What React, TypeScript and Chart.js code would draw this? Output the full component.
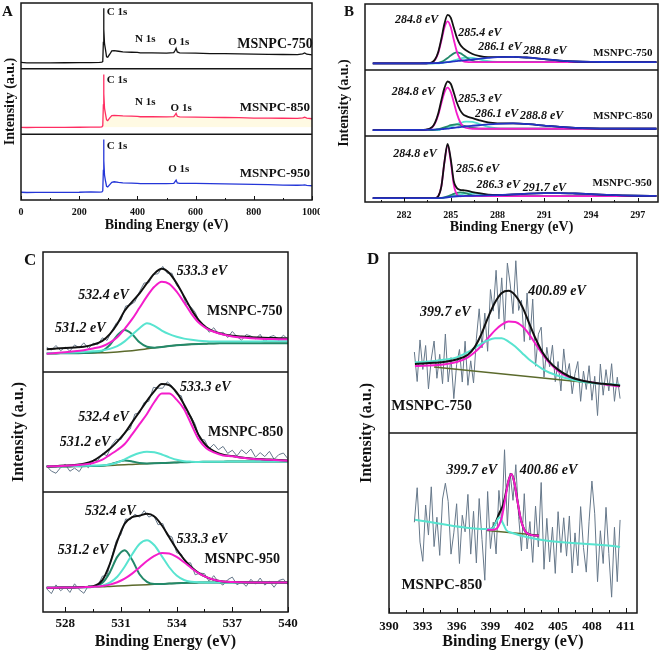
import React, { useEffect, useRef } from "react";
import { Chart, registerables } from "chart.js";

Chart.register(...registerables);

const SERIF = "'Liberation Serif', 'Times New Roman', serif";

// ================= Panel A : survey spectra =================
const surveyEnergy = [0, 20, 50, 100, 150, 200, 240, 270, 278, 281, 283, 284, 285, 287, 290, 294, 298, 305, 312, 320, 335, 350, 380, 400, 410, 450, 500, 525, 530, 533, 537, 545, 600, 650, 700, 750, 800, 850, 900, 950, 968, 975, 982, 1000];
const survey750 = [9.5, 8.7, 8.8, 8.9, 9.0, 9.2, 9.2, 9.5, 9.8, 11, 40, 92, 60, 38, 30, 18, 17.5, 22, 27, 27.5, 26.5, 25.5, 25, 24.8, 24, 24.2, 23.8, 24.5, 28, 31, 25.5, 24.2, 23.6, 23, 22.8, 22.4, 22, 21.8, 21.6, 21.5, 22.5, 24, 22, 21];
const survey850 = [10.6, 10.4, 10.5, 10.6, 10.7, 10.8, 10.9, 11.1, 11.5, 13, 45, 91, 62, 40, 32, 22, 21, 25, 28.5, 29, 28.5, 28, 27.6, 27.3, 26.8, 26.9, 26.5, 27, 30, 32, 27.5, 26.7, 26.2, 25.9, 25.6, 25.3, 24.8, 24.7, 24.5, 24.4, 25, 26, 24.6, 23.7];
const survey950 = [11.8, 11.4, 11.5, 11.6, 11.6, 11.8, 12.5, 12, 12.3, 14, 45, 92, 60, 38, 30, 21, 20, 23.5, 27, 27.8, 26.8, 26, 25.6, 25.3, 25, 25, 24.8, 25.3, 28.5, 30.3, 26, 25.3, 25.3, 24.8, 24.5, 24.1, 23.7, 23.3, 22.8, 22.5, 22.6, 23, 22.3, 21.7];

// ================= Panel B : C 1s =================
const c1sEnergy = [280, 281, 282, 283, 283.4, 283.8, 284.0, 284.2, 284.4, 284.6, 284.8, 285.0, 285.2, 285.4, 285.6, 285.8, 286.0, 286.4, 286.8, 287.4, 288, 289, 290, 291, 292, 293, 294, 295, 296, 297, 298.2];
// MSNPC-750
const b750Env = [10, 10, 10, 10.1, 10.2, 11.75, 16.25, 27.4, 47.3, 70.3, 83.5, 79.3, 63.9, 48.6, 38.6, 33.1, 29.5, 24.3, 21.5, 19.6, 19.6, 20, 18.7, 16.4, 14.2, 12.9, 12.3, 12.1, 12, 12, 12];
const b750Pk2848 = [10, 10, 10, 10, 10, 11.3, 15.4, 25.8, 44.2, 64.5, 73.8, 65.1, 45.4, 27.4, 17.2, 13.2, 12.3, 12, 12, 12, 12, 12, 12, 12, 12, 12, 12, 12, 12, 12, 12];
const b750Pk2854 = [10, 10, 10, 10, 10, 10.1, 10.3, 10.8, 12.2, 14.7, 18.1, 22, 25.2, 26.6, 25.6, 22.8, 19.3, 14, 12.3, 12, 12, 12, 12, 12, 12, 12, 12, 12, 12, 12, 12];
const b750Pk2861 = [10, 10, 10, 10, 10, 10, 10.1, 10.1, 10.6, 11.2, 12.1, 13.1, 14.5, 15.9, 17.2, 18.3, 18.9, 18.4, 16.3, 13.3, 12.2, 12, 12, 12, 12, 12, 12, 12, 12, 12, 12];
const b750Pk2888 = [10, 10, 10, 10.1, 10.2, 10.35, 10.45, 10.6, 10.9, 11.4, 11.9, 12.4, 13, 13.5, 14, 14.5, 15, 15.9, 16.9, 18.3, 19.4, 20, 18.7, 16.4, 14.2, 12.9, 12.3, 12.1, 12, 12, 12];
// MSNPC-850
const b850Env = [9, 9, 9, 9.3, 9.6, 13.3, 20.8, 34.1, 54.2, 72.9, 82.6, 79.1, 65.6, 50.3, 39.3, 32.9, 30.1, 27.1, 24.1, 20.5, 19.2, 19, 17.9, 15.8, 13.8, 12.3, 11.5, 11.2, 11.1, 11, 11];
const b850Pk2848 = [9, 9, 9, 9, 9.2, 12.7, 19.4, 31.9, 49.6, 66.2, 73.3, 66.8, 50.8, 33.5, 21.2, 14.6, 12.1, 11, 11, 11, 11, 11, 11, 11, 11, 11, 11, 11, 11, 11, 11];
const b850Pk2853 = [9, 9, 9, 9, 9, 9, 9.7, 10.3, 11.5, 13, 14.7, 16.3, 17.3, 17.5, 17, 15.8, 14.5, 12.3, 11.3, 11, 11, 11, 11, 11, 11, 11, 11, 11, 11, 11, 11];
const b850Pk2861 = [9, 9, 9, 9, 9, 9, 9, 9, 10.4, 11.4, 12.7, 14.4, 16.2, 18.1, 19.9, 21.2, 21.9, 21.3, 18.5, 13.9, 11.7, 11, 11, 11, 11, 11, 11, 11, 11, 11, 11];
const b850Pk2888 = [9, 9, 9.1, 9.3, 9.4, 9.6, 9.7, 9.9, 10.3, 10.8, 11.3, 11.9, 12.5, 13, 13.6, 14, 14.6, 15.5, 16.3, 17.6, 18.5, 19, 17.9, 15.8, 13.8, 12.3, 11.5, 11.2, 11.1, 11, 11];
// MSNPC-950
const b950Env = [6, 6, 6, 6, 6, 6, 6, 8.7, 23.8, 61.1, 87.9, 65.3, 31, 21, 18.5, 17.8, 17.3, 15.1, 13.4, 11.3, 10.7, 11.5, 12.6, 13.3, 13.5, 12.9, 11.9, 10.9, 10, 9.5, 9.15];
const b950Pk2848 = [6, 6, 6, 6, 6, 6, 6, 8.7, 23.6, 60.6, 86.2, 61.8, 25.6, 11.2, 8.7, 8.8, 8.9, 9, 9, 9, 9, 9, 9, 9, 9, 9, 9, 9, 9, 9, 9];
const b950Pk2856 = [6, 6, 6, 6, 6, 6, 6, 6, 6.4, 7.1, 8.4, 10.3, 12.2, 13.9, 14.7, 14.2, 12.9, 10.2, 9.2, 9, 9, 9, 9, 9, 9, 9, 9, 9, 9, 9, 9];
const b950Pk2863 = [6, 6, 6, 6, 6, 6, 6, 6, 6.2, 6.6, 7.65, 8.6, 9.5, 10.5, 11.4, 12.3, 13, 13.4, 12.5, 10.3, 9.2, 9, 9, 9, 9, 9, 9, 9, 9, 9, 9];
const b950Pk2917 = [6, 6, 6, 6, 6, 6, 6, 6, 6.2, 6.6, 7.2, 7.9, 8.35, 8.7, 8.95, 9.05, 9.2, 9.5, 9.7, 10, 10.5, 11.5, 12.6, 13.3, 13.5, 12.9, 11.9, 10.9, 10, 9.5, 9.15];

// ================= Panel C : O 1s =================
const o1sEnergy = [527, 527.5, 528, 528.5, 529, 529.5, 530, 530.4, 530.8, 531.2, 531.6, 532.0, 532.4, 532.8, 533.2, 533.6, 534.0, 534.4, 534.8, 535.2, 535.6, 536, 536.5, 537, 537.5, 538, 538.5, 539, 539.5, 540];
const o1sRawEnergy = [527, 527.25, 527.5, 527.75, 528, 528.25, 528.5, 528.75, 529, 529.25, 529.5, 529.75, 530, 530.25, 530.5, 530.75, 531, 531.25, 531.5, 531.75, 532, 532.25, 532.5, 532.75, 533, 533.25, 533.5, 533.75, 534, 534.25, 534.5, 534.75, 535, 535.25, 535.5, 535.75, 536, 536.25, 536.5, 536.75, 537, 537.25, 537.5, 537.75, 538, 538.25, 538.5, 538.75, 539, 539.25, 539.5, 539.75, 540];
// MSNPC-750
const o750Raw = [20.6, 18.2, 22.1, 17.7, 20.7, 17.3, 22.6, 20.2, 24.3, 19.5, 24, 22.8, 28.5, 26.3, 34, 40.8, 43.3, 54.9, 55.8, 58.5, 66.9, 74.2, 74.3, 81.3, 81.9, 88, 82.3, 82.3, 72.2, 67.8, 57, 54.6, 49.8, 40.6, 39, 33.1, 36.9, 31.7, 33.2, 28.7, 33.8, 29.4, 26.5, 31.2, 30, 27.5, 31.4, 25.1, 29.3, 30.4, 26.4, 30.7, 27.3];
const o750Env = [19, 19.5, 20, 20.5, 21, 22.8, 26, 31.5, 40, 51, 58.5, 65.5, 74, 82, 86, 82.5, 74, 63, 52, 43, 37, 33.8, 31.5, 30.2, 29.5, 29, 28.7, 28.4, 28.2, 28];
const o750Pk5312 = [15.5, 15.5, 15.6, 15.6, 15.8, 16.2, 17.6, 22.5, 30.5, 35, 31.5, 24.7, 21.0, 20.3, 20.9, 21.6, 22.2, 22.7, 23.1, 23.4, 23.6, 23.8, 23.9, 24, 24, 24, 24, 24, 24, 24];
const o750Pk5324 = [15.6, 15.8, 16, 16.3, 16.7, 17.2, 18, 19.3, 21.5, 25.5, 31, 36.5, 40.6, 38.5, 34.5, 31.5, 29.4, 27.8, 26.8, 26.1, 25.7, 25.5, 25.4, 25.4, 25.4, 25.5, 25.5, 25.6, 25.6, 25.7];
const o750Pk5333 = [15.3, 15.8, 16.4, 17.2, 18.2, 19.6, 21.5, 24.5, 29, 36, 44, 53.5, 63, 71, 75.2, 73.5, 67, 58, 48.5, 41, 36.4, 33.5, 31.2, 29.6, 28.7, 28.1, 27.7, 27.5, 27.3, 27.2];
const o750Bg = [15.5, 15.5, 15.6, 15.6, 15.7, 15.8, 16.0, 16.3, 16.7, 17.2, 17.8, 18.5, 19.3, 20.1, 20.9, 21.6, 22.2, 22.7, 23.1, 23.4, 23.6, 23.8, 23.9, 24, 24, 24, 24, 24, 24, 24];
// MSNPC-850
const o850Raw = [21.5, 17.4, 15.6, 20.4, 22.9, 17.3, 19.9, 17, 23.1, 20.2, 26.5, 26.2, 31.9, 30.3, 39, 43.9, 43.7, 50.6, 52.5, 65, 65.9, 74.6, 75.6, 87.2, 86.5, 86.5, 91.8, 88.2, 81.5, 80.2, 66.1, 63.6, 56.4, 43.9, 43.5, 36, 39.8, 35.2, 38, 32.2, 34.8, 30.1, 35.2, 31.8, 35.8, 29, 32.8, 29.5, 33.9, 27.2, 31.1, 32.5, 27.6];
const o850Env = [21.2, 21.5, 22, 22.6, 23.5, 26, 31, 36, 42, 49, 58, 67, 76, 84, 90, 89, 83, 73, 61, 47, 38.5, 34, 31, 30, 28.8, 28, 27.4, 27, 26.6, 26.2];
const o850Pk5312 = [21.2, 21.2, 21.3, 21.4, 21.5, 21.7, 21.9, 23, 24.9, 26.2, 25.5, 24.2, 23.8, 23.9, 24.1, 24.4, 24.6, 24.8, 25.0, 25.1, 25.2, 25.3, 25.3, 25.4, 25.4, 25.4, 25.4, 25.4, 25.4, 25.4];
const o850Pk5324 = [21.4, 21.5, 21.6, 21.7, 21.8, 22, 22.2, 22.9, 24.6, 27.2, 30.2, 32.5, 33.6, 33.1, 31.3, 28.9, 26.8, 25.7, 25.3, 25.1, 25.2, 25.3, 25.3, 25.4, 25.4, 25.4, 25.4, 25.4, 25.4, 25.4];
const o850Pk5333 = [21.3, 21.5, 21.8, 22.3, 23, 24.2, 27, 31, 35, 40, 48, 56.5, 65, 75, 82, 82, 77, 69, 56, 43.5, 36.5, 33, 30.5, 29.7, 28.5, 27.8, 27.2, 26.8, 26.4, 26];
const o850Bg = [21.2, 21.2, 21.3, 21.4, 21.5, 21.7, 21.9, 22.1, 22.4, 22.7, 23.0, 23.3, 23.6, 23.9, 24.1, 24.4, 24.6, 24.8, 25.0, 25.1, 25.2, 25.3, 25.3, 25.4, 25.4, 25.4, 25.4, 25.4, 25.4, 25.4];
// MSNPC-950
const o950Raw = [19.3, 15.3, 22.6, 17.7, 21, 16.3, 23.5, 18.6, 15.6, 22, 21.3, 21.7, 29.9, 30.3, 45.6, 59.4, 64.6, 77.5, 77, 81.5, 79, 84.5, 79.1, 80.8, 72.7, 73.8, 64.2, 62.5, 49.4, 48.3, 40.5, 41, 31, 32.4, 32, 25.5, 30.3, 25, 22.4, 26.9, 29.1, 22.7, 25, 21.4, 27.3, 23.2, 28.3, 22.4, 25.6, 20.6, 26.2, 27.5, 22.7];
const o950Env = [20.2, 20.3, 20.4, 20.5, 20.8, 21.5, 26.5, 40, 59, 73.5, 79, 80.3, 81.8, 79.6, 72.3, 62.3, 52.3, 43.9, 37.3, 32.4, 29, 26.8, 25.4, 24.9, 24.7, 24.6, 24.6, 24.6, 24.6, 24.6];
const o950Pk5312 = [20.2, 20.3, 20.4, 20.5, 20.6, 21.1, 24.3, 33.0, 45.9, 51.5, 43.5, 31.5, 25.1, 23.4, 23.4, 23.7, 24.0, 24.2, 24.4, 24.5, 24.6, 24.6, 24.6, 24.6, 24.6, 24.6, 24.6, 24.6, 24.6, 24.6];
const o950Pk5324 = [20.2, 20.3, 20.4, 20.5, 20.6, 21.0, 22.0, 24.5, 29.4, 37.7, 47.9, 56.7, 59.8, 55.6, 46.6, 37.3, 30.4, 26.7, 25.2, 24.7, 24.6, 24.6, 24.6, 24.6, 24.6, 24.6, 24.6, 24.6, 24.6, 24.6];
const o950Pk5333 = [20.2, 20.3, 20.4, 20.5, 20.7, 21.0, 21.7, 22.8, 24.8, 27.8, 32.0, 37.1, 42.5, 46.8, 49.1, 48.7, 45.9, 41.4, 36.5, 32.2, 29.0, 26.8, 25.4, 24.9, 24.7, 24.6, 24.6, 24.6, 24.6, 24.6];
const o950Bg = [20.2, 20.3, 20.4, 20.5, 20.6, 20.8, 21.0, 21.3, 21.6, 21.9, 22.2, 22.5, 22.8, 23.1, 23.4, 23.7, 24.0, 24.2, 24.4, 24.5, 24.6, 24.6, 24.6, 24.6, 24.6, 24.6, 24.6, 24.6, 24.6, 24.6];

// ================= Panel D : N 1s =================
const n1sRawEnergy = [392.25, 392.5, 392.75, 393, 393.25, 393.5, 393.75, 394, 394.25, 394.5, 394.75, 395, 395.25, 395.5, 395.75, 396, 396.25, 396.5, 396.75, 397, 397.25, 397.5, 397.75, 398, 398.25, 398.5, 398.75, 399, 399.25, 399.5, 399.75, 400, 400.25, 400.5, 400.75, 401, 401.25, 401.5, 401.75, 402, 402.25, 402.5, 402.75, 403, 403.25, 403.5, 403.75, 404, 404.25, 404.5, 404.75, 405, 405.25, 405.5, 405.75, 406, 406.25, 406.5, 406.75, 407, 407.25, 407.5, 407.75, 408, 408.25, 408.5, 408.75, 409, 409.25, 409.5, 409.75, 410, 410.25, 410.5];
// MSNPC-750
const n750Raw = [45, 28.6, 51.7, 35.3, 48.6, 24.5, 41.1, 51.1, 30.4, 43.7, 27.4, 55, 28.4, 41.9, 19.1, 38.1, 46.4, 28.3, 51, 26.5, 40.1, 27.8, 52.3, 69, 47.3, 66.6, 45.4, 79.7, 67.7, 90.4, 63.4, 86.2, 57.6, 94.4, 82.8, 66.3, 95.7, 68.1, 73.8, 50.8, 77.8, 51.6, 74.4, 37.1, 54.9, 58.8, 31, 47.6, 36.8, 48.8, 28.5, 39.7, 23.4, 46.7, 31.4, 38.6, 21.8, 33, 39.7, 17.6, 34.4, 24.2, 37.4, 18.2, 31.5, 9.7, 38.3, 21, 35.2, 23.4, 38.5, 17.6, 31, 19.1];
const n750FitEnergy = [392.3, 393, 394, 395, 396, 397, 397.6, 398.2, 398.8, 399.4, 400, 400.6, 401.2, 401.8, 402.4, 403, 403.6, 404.2, 405, 406, 407, 408, 409, 410.5];
const n750Env = [38.4, 38.6, 39, 39.6, 40.8, 43.5, 47.7, 55, 64.4, 72.5, 77.8, 79, 76.5, 70.5, 61.5, 52.5, 45, 39.8, 35.2, 31.4, 29.3, 28.1, 27.3, 26.3];
const n750Pk3997 = [39.3, 39.5, 40, 40.8, 42, 44.9, 47.3, 49.7, 51.6, 52.6, 52.6, 50.8, 48, 44.5, 41, 38.2, 35.6, 33.6, 31.8, 30, 28.6, 27.8, 27.3, 26.8];
const n750Pk4009 = [37.2, 37.3, 37.6, 38.2, 39.4, 42, 44.8, 48.5, 52.8, 57, 60.2, 61.9, 61.7, 59.4, 55.1, 49.5, 44, 39.2, 34.5, 30.8, 29, 28.1, 27.1, 25.9];
const n750BgEnergy = [394, 408];
const n750Bg = [36.6, 27.8];
// MSNPC-850
const n850Raw = [50.4, 69.6, 39.4, 28.7, 60, 43.3, 70.1, 36.9, 53.2, 32, 63.3, 72.1, 62, 32.7, 44.5, 60.7, 27.5, 54.3, 45.1, 65.9, 32.7, 56.5, 27.8, 63.6, 40.9, 18.2, 67.5, 35.8, 50.5, 32.8, 68.1, 50.4, 90.7, 48.5, 77.8, 62.6, 82.4, 53.7, 34.5, 66.3, 35.6, 50.8, 28.1, 59.4, 36.7, 72.5, 24.3, 52.6, 28.4, 47.7, 22, 56.3, 33.6, 52.9, 31.6, 53.9, 22.2, 44.5, 26.3, 59.1, 36.4, 22.7, 51, 73.3, 55.1, 17.4, 45.7, 27.5, 58.7, 33, 8.8, 47.6, 17.4, 51.7];
const n850Pk3997Energy = [392.3, 398.6, 399.2, 399.5, 399.8, 400.1, 400.4, 400.8, 410.5];
const n850Pk3997 = [51.8, 46.6, 47.1, 50.4, 53.2, 50.0, 46.1, 44.7, 36.7];
const n850Pk4009Energy = [398.7, 399.2, 399.6, 400.0, 400.3, 400.6, 400.85, 401.1, 401.4, 401.7, 402.1, 402.6, 403.3];
const n850Pk4009 = [46.3, 46.2, 47.2, 53.0, 62.9, 73.3, 77.2, 73.0, 62.1, 51.8, 45.2, 43.4, 42.9];
const n850EnvEnergy = [398.7, 399.2, 399.5, 399.8, 400.1, 400.4, 400.6, 400.85, 401.1, 401.4, 401.7, 402.1, 402.6, 403.3];
const n850Env = [46.3, 47.2, 50.9, 55.7, 59.7, 67.6, 73.4, 77.2, 73.0, 62.1, 51.8, 45.2, 43.4, 42.9];
const n850BgEnergy = [398.7, 403.3];
const n850Bg = [45.8, 43.2];

// ================= styles =================
const BLACK = "#111111";
const MAGENTA = "#f41dcb";
const TURQ = "#58e4d0";
const DGREEN = "#23896a";
const OLIVE = "#5b6a2c";
const NAVY = "#2233c4";
const GRAY = "#66788a";
const RED = "#ff2d62";
const BLUE = "#2436d8";

const f = (style: string, size: number) => `${style} ${size}px ${SERIF}`;

type Curve = { x: number[]; y: number[]; color: string; w: number; smooth?: boolean; fill?: { value: number; color: string } };
type Note = { t: string; x: number; y: number; a: "left" | "right"; f: string };
type Sub = { curves: Curve[]; notes: Note[] };

const cv = (x: number[], y: number[], color: string, w: number, smooth = true, fill?: { value: number; color: string }): Curve => ({ x, y, color, w, smooth, fill });

const panels: any[] = [
  {
    key: "A", left: 0, top: 0, w: 320, h: 234,
    pad: { left: 0, right: 8, top: 3, bottom: 0 },
    yTitleW: 21, yTitlePad: 1.6, yTitleSize: 14,
    xMin: 0, xMax: 1000, xStep: 200, minor: 100, tickSize: 10, tickPad: 6, xH: 34, xTitleSize: 14, xTitlePadB: 0.6,
    tickMajor: 4, tickMinor: 2,
    subs: [
      { curves: [cv(surveyEnergy, survey750, BLACK, 1.3, false)],
        notes: [
          { t: "C 1s", x: 295, y: 86, a: "left", f: f("bold", 11) },
          { t: "N 1s", x: 392, y: 44.6, a: "left", f: f("bold", 11) },
          { t: "O 1s", x: 506, y: 40.5, a: "left", f: f("bold", 11) },
          { t: "MSNPC-750", x: 743, y: 37, a: "left", f: f("bold", 14) },
        ] },
      { curves: [cv(surveyEnergy, survey850, RED, 1.3, false, { value: 10.6, color: "rgba(255,246,208,0.6)" })],
        notes: [
          { t: "C 1s", x: 295, y: 83, a: "left", f: f("bold", 11) },
          { t: "N 1s", x: 392, y: 49, a: "left", f: f("bold", 11) },
          { t: "O 1s", x: 514, y: 39.9, a: "left", f: f("bold", 11) },
          { t: "MSNPC-850", x: 752, y: 40.4, a: "left", f: f("bold", 13) },
        ] },
      { curves: [cv(surveyEnergy, survey950, BLUE, 1.3, false)],
        notes: [
          { t: "C 1s", x: 295, y: 82.3, a: "left", f: f("bold", 11) },
          { t: "O 1s", x: 506, y: 46.5, a: "left", f: f("bold", 11) },
          { t: "MSNPC-950", x: 752, y: 39.4, a: "left", f: f("bold", 13) },
        ] },
    ],
  },
  {
    key: "B", left: 330, top: 0, w: 331, h: 236,
    pad: { left: 0, right: 3, top: 4, bottom: 0 },
    yTitleW: 35, yTitlePad: 5.6, yTitleSize: 14,
    xMin: 279.5, xMax: 298.3, xStep: 3, minor: 1.5, tickSize: 10, tickPad: 7, xH: 34, xTitleSize: 14, xTitlePadB: 0,
    tickMajor: 4, tickMinor: 2,
    subs: [
      { curves: [
          cv(c1sEnergy, b750Pk2861, TURQ, 1.8), cv(c1sEnergy, b750Pk2854, DGREEN, 1.8), cv(c1sEnergy, b750Pk2848, MAGENTA, 1.8),
          cv(c1sEnergy, b750Env, BLACK, 1.8), cv(c1sEnergy, b750Pk2888, NAVY, 1.8)],
        notes: [
          { t: "284.8 eV", x: 281.42, y: 76.5, a: "left", f: f("italic bold", 12) },
          { t: "285.4 eV", x: 285.48, y: 55.9, a: "left", f: f("italic bold", 12) },
          { t: "286.1 eV", x: 286.77, y: 34.3, a: "left", f: f("italic bold", 12) },
          { t: "288.8 eV", x: 289.65, y: 28.2, a: "left", f: f("italic bold", 12) },
          { t: "MSNPC-750", x: 297.95, y: 25, a: "right", f: f("bold", 11) },
        ] },
      { curves: [
          cv(c1sEnergy, b850Pk2861, TURQ, 1.8), cv(c1sEnergy, b850Pk2853, DGREEN, 1.8), cv(c1sEnergy, b850Pk2848, MAGENTA, 1.8),
          cv(c1sEnergy, b850Env, BLACK, 1.8), cv(c1sEnergy, b850Pk2888, NAVY, 1.8)],
        notes: [
          { t: "284.8 eV", x: 281.21, y: 66.1, a: "left", f: f("italic bold", 12) },
          { t: "285.3 eV", x: 285.48, y: 56.3, a: "left", f: f("italic bold", 12) },
          { t: "286.1 eV", x: 286.56, y: 33.9, a: "left", f: f("italic bold", 12) },
          { t: "288.8 eV", x: 289.44, y: 29.9, a: "left", f: f("italic bold", 12) },
          { t: "MSNPC-850", x: 297.95, y: 29.9, a: "right", f: f("bold", 11) },
        ] },
      { curves: [
          cv(c1sEnergy, b950Pk2863, TURQ, 1.8), cv(c1sEnergy, b950Pk2856, DGREEN, 1.8), cv(c1sEnergy, b950Pk2848, MAGENTA, 1.8),
          cv(c1sEnergy, b950Env, BLACK, 1.8), cv(c1sEnergy, b950Pk2917, NAVY, 1.8)],
        notes: [
          { t: "284.8 eV", x: 281.32, y: 72.3, a: "left", f: f("italic bold", 12) },
          { t: "285.6 eV", x: 285.34, y: 50, a: "left", f: f("italic bold", 12) },
          { t: "286.3 eV", x: 286.66, y: 25.8, a: "left", f: f("italic bold", 12) },
          { t: "291.7 eV", x: 289.62, y: 21.7, a: "left", f: f("italic bold", 12) },
          { t: "MSNPC-950", x: 297.9, y: 29.2, a: "right", f: f("bold", 11) },
        ] },
    ],
  },
  {
    key: "C", left: 0, top: 235, w: 300, h: 417,
    pad: { left: 0, right: 12, top: 17, bottom: 0 },
    yTitleW: 43, yTitlePad: 9.4, yTitleSize: 16,
    xMin: 526.8, xMax: 540, xStep: 3, minor: 1.5, tickSize: 13, tickPad: 3.5, xH: 40, xTitleSize: 16, xTitlePadB: 0.7,
    tickMajor: 5, tickMinor: 3,
    subs: [
      { curves: [
          cv(o1sRawEnergy, o750Raw, GRAY, 1, false), cv(o1sEnergy, o750Bg, OLIVE, 1.5), cv(o1sEnergy, o750Pk5312, DGREEN, 2),
          cv(o1sEnergy, o750Pk5324, TURQ, 2), cv(o1sEnergy, o750Env, BLACK, 2), cv(o1sEnergy, o750Pk5333, MAGENTA, 2)],
        notes: [
          { t: "533.3 eV", x: 534.0, y: 83.6, a: "left", f: f("italic bold", 14) },
          { t: "532.4 eV", x: 528.7, y: 64, a: "left", f: f("italic bold", 14) },
          { t: "531.2 eV", x: 527.45, y: 36.4, a: "left", f: f("italic bold", 14) },
          { t: "MSNPC-750", x: 539.7, y: 50.3, a: "right", f: f("bold", 14) },
        ] },
      { curves: [
          cv(o1sRawEnergy, o850Raw, GRAY, 1, false), cv(o1sEnergy, o850Bg, OLIVE, 1.5), cv(o1sEnergy, o850Pk5312, DGREEN, 2),
          cv(o1sEnergy, o850Pk5324, TURQ, 2), cv(o1sEnergy, o850Env, BLACK, 2), cv(o1sEnergy, o850Pk5333, MAGENTA, 2)],
        notes: [
          { t: "533.3 eV", x: 534.18, y: 87.5, a: "left", f: f("italic bold", 14) },
          { t: "532.4 eV", x: 528.7, y: 62, a: "left", f: f("italic bold", 14) },
          { t: "531.2 eV", x: 527.7, y: 41, a: "left", f: f("italic bold", 14) },
          { t: "MSNPC-850", x: 539.75, y: 49.4, a: "right", f: f("bold", 14) },
        ] },
      { curves: [
          cv(o1sRawEnergy, o950Raw, GRAY, 1, false), cv(o1sEnergy, o950Bg, OLIVE, 1.5), cv(o1sEnergy, o950Pk5312, DGREEN, 2),
          cv(o1sEnergy, o950Pk5324, TURQ, 2), cv(o1sEnergy, o950Env, BLACK, 2), cv(o1sEnergy, o950Pk5333, MAGENTA, 2)],
        notes: [
          { t: "532.4 eV", x: 529.06, y: 83.6, a: "left", f: f("italic bold", 14) },
          { t: "531.2 eV", x: 527.6, y: 51, a: "left", f: f("italic bold", 14) },
          { t: "533.3 eV", x: 534.0, y: 60.7, a: "left", f: f("italic bold", 14) },
          { t: "MSNPC-950", x: 539.57, y: 44, a: "right", f: f("bold", 14) },
        ] },
    ],
  },
  {
    key: "D", left: 330, top: 235, w: 331, h: 417,
    pad: { left: 0, right: 24, top: 18, bottom: 0 },
    yTitleW: 59, yTitlePad: 27.1, yTitleSize: 16,
    xMin: 390, xMax: 412, xStep: 3, minor: 1.5, tickSize: 13, tickPad: 6.2, xH: 39, xTitleSize: 16, xTitlePadB: 0.7,
    tickMajor: 5, tickMinor: 3,
    subs: [
      { curves: [
          cv(n1sRawEnergy, n750Raw, GRAY, 1, false), cv(n750BgEnergy, n750Bg, OLIVE, 1.5, false),
          cv(n750FitEnergy, n750Pk4009, MAGENTA, 2), cv(n750FitEnergy, n750Pk3997, TURQ, 2), cv(n750FitEnergy, n750Env, BLACK, 2)],
        notes: [
          { t: "400.89 eV", x: 402.36, y: 78.4, a: "left", f: f("italic bold", 14) },
          { t: "399.7 eV", x: 392.75, y: 67.2, a: "left", f: f("italic bold", 14) },
          { t: "MSNPC-750", x: 390.2, y: 15.1, a: "left", f: f("bold", 15) },
        ] },
      { curves: [
          cv(n1sRawEnergy, n850Raw, GRAY, 1, false), cv(n850BgEnergy, n850Bg, OLIVE, 1.5, false),
          cv(n850EnvEnergy, n850Env, BLACK, 2), cv(n850Pk3997Energy, n850Pk3997, TURQ, 2), cv(n850Pk4009Energy, n850Pk4009, MAGENTA, 2)],
        notes: [
          { t: "399.7 eV", x: 395.1, y: 79.4, a: "left", f: f("italic bold", 14) },
          { t: "400.86 eV", x: 401.6, y: 79.4, a: "left", f: f("italic bold", 14) },
          { t: "MSNPC-850", x: 391.1, y: 15.5, a: "left", f: f("bold", 15) },
        ] },
    ],
  },
];

function decorPlugin(p: any) {
  return {
    id: "decor" + p.key,
    afterDatasetsDraw(chart: any) {
      const { ctx, chartArea } = chart;
      const { left, right, top, bottom } = chartArea;
      const xs = chart.scales.x;
      ctx.save();
      // peak / sample labels
      p.subs.forEach((s: Sub, i: number) => {
        const ys = chart.scales["y" + i];
        ctx.fillStyle = "#111";
        ctx.textBaseline = "middle";
        s.notes.forEach((nt) => {
          ctx.font = nt.f;
          ctx.textAlign = nt.a;
          ctx.fillText(nt.t, xs.getPixelForValue(nt.x), ys.getPixelForValue(nt.y));
        });
      });
      // inward tick marks on the bottom axis
      const majors: number[] = xs.ticks.map((t: any) => t.value);
      let v = majors[0];
      while (v - p.minor >= xs.min - 1e-6) v -= p.minor;
      ctx.strokeStyle = "#111";
      ctx.lineWidth = 1;
      ctx.beginPath();
      for (; v <= xs.max + 1e-6; v += p.minor) {
        const isMajor = majors.some((m) => Math.abs(m - v) < 1e-6);
        const px = Math.round(xs.getPixelForValue(v)) + 0.5;
        ctx.moveTo(px, bottom);
        ctx.lineTo(px, bottom - (isMajor ? p.tickMajor : p.tickMinor));
      }
      ctx.stroke();
      // frame and separators
      ctx.strokeStyle = "#161616";
      ctx.lineWidth = 1.5;
      ctx.strokeRect(left, top, right - left, bottom - top);
      ctx.beginPath();
      for (let i = 0; i < p.subs.length - 1; i++) {
        const yb = chart.scales["y" + i].bottom;
        ctx.moveTo(left, yb);
        ctx.lineTo(right, yb);
      }
      ctx.stroke();
      ctx.restore();
    },
  };
}

function buildConfig(p: any): any {
  const datasets: any[] = [];
  let order = 1000;
  p.subs.forEach((s: Sub, i: number) => {
    s.curves.forEach((c) => {
      datasets.push({
        data: c.x.map((xv, k) => ({ x: xv, y: c.y[k] })),
        xAxisID: "x",
        yAxisID: "y" + i,
        borderColor: c.color,
        borderWidth: c.w,
        pointRadius: 0,
        pointHoverRadius: 0,
        tension: 0,
        cubicInterpolationMode: c.smooth ? "monotone" : "default",
        fill: c.fill ? { target: { value: c.fill.value }, above: c.fill.color, below: "rgba(0,0,0,0)" } : false,
        backgroundColor: c.fill ? c.fill.color : "rgba(0,0,0,0)",
        order: order--,
      });
    });
  });
  const n = p.subs.length;
  const scales: any = {
    x: {
      type: "linear",
      position: "bottom",
      min: p.xMin,
      max: p.xMax,
      grid: { display: false, drawTicks: false },
      border: { display: false },
      ticks: {
        stepSize: p.xStep,
        includeBounds: false,
        autoSkip: false,
        maxRotation: 0,
        minRotation: 0,
        padding: p.tickPad,
        color: "#111",
        font: { family: SERIF, size: p.tickSize, weight: "bold" },
        callback: (val: any) => String(val),
      },
      title: {
        display: true,
        text: "Binding Energy (eV)",
        color: "#111",
        font: { family: SERIF, size: p.xTitleSize, weight: "bold" },
        padding: { top: 0, bottom: p.xTitlePadB },
      },
      afterFit: (s: any) => {
        s.height = p.xH;
        s.paddingLeft = 0;
        s.paddingRight = 0;
      },
    },
    yT: {
      type: "linear",
      position: "left",
      weight: 100,
      grid: { display: false, drawTicks: false },
      border: { display: false },
      ticks: { display: false },
      title: {
        display: true,
        text: "Intensity (a.u.)",
        color: "#111",
        font: { family: SERIF, size: p.yTitleSize, weight: "bold" },
        padding: { top: p.yTitlePad, bottom: 0 },
      },
      afterFit: (s: any) => {
        s.width = p.yTitleW;
        s.paddingTop = 0;
        s.paddingBottom = 0;
      },
    },
  };
  for (let i = 0; i < n; i++) {
    scales["y" + i] = {
      type: "linear",
      position: "left",
      stack: "main",
      stackWeight: 1,
      weight: n - i,
      min: 0,
      max: 100,
      grid: { display: false, drawTicks: false },
      border: { display: false },
      ticks: { display: false },
      afterFit: (s: any) => {
        s.width = 0;
        s.paddingTop = 0;
        s.paddingBottom = 0;
      },
    };
  }
  return {
    type: "line",
    data: { datasets },
    options: {
      animation: false,
      responsive: false,
      devicePixelRatio: 1,
      events: [],
      layout: { padding: p.pad },
      plugins: { legend: { display: false }, tooltip: { enabled: false }, title: { display: false } },
      scales,
    },
    plugins: [decorPlugin(p)],
  };
}

function PanelChart({ p }: { p: any }) {
  const ref = useRef<HTMLCanvasElement | null>(null);
  useEffect(() => {
    if (!ref.current) return;
    const chart = new Chart(ref.current, buildConfig(p));
    return () => chart.destroy();
  }, [p]);
  return (
    <canvas
      ref={ref}
      width={p.w}
      height={p.h}
      style={{ position: "absolute", left: p.left, top: p.top, width: p.w, height: p.h }}
    />
  );
}

const letterStyle = (left: number, top: number, size: number): React.CSSProperties => ({
  position: "absolute",
  left,
  top,
  fontFamily: SERIF,
  fontWeight: "bold",
  fontSize: size,
  lineHeight: `${size}px`,
  color: "#111",
});

export default function App() {
  return (
    <div style={{ position: "absolute", left: 0, top: 0, width: 661, height: 652, background: "#fff", overflow: "hidden" }}>
      {panels.map((p) => (
        <PanelChart key={p.key} p={p} />
      ))}
      <div style={letterStyle(2, 4, 15)}>A</div>
      <div style={letterStyle(344, 4, 15)}>B</div>
      <div style={letterStyle(24, 251, 17)}>C</div>
      <div style={letterStyle(367, 250, 17)}>D</div>
    </div>
  );
}
